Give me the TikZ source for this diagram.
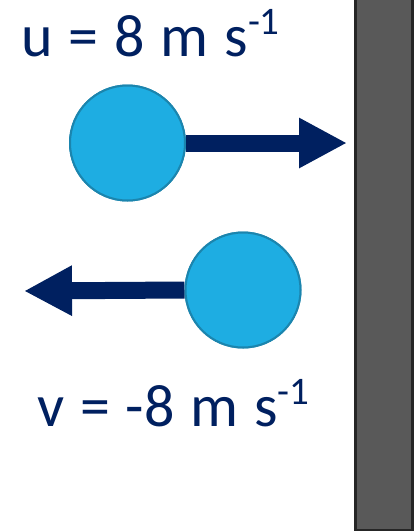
\documentclass[tikz,border=0pt]{standalone}
\usepackage{fontspec}
\setmainfont{Carlito}
\usetikzlibrary{arrows.meta}
\definecolor{navy}{HTML}{002060}
\definecolor{ballfill}{HTML}{1EADE2}
\definecolor{ballline}{HTML}{1B85AE}
\definecolor{wallfill}{HTML}{595959}
\definecolor{wallline}{HTML}{262626}
\newcommand{\labelfont}{\fontsize{60}{72}\selectfont}
\newcommand{\wsp}{\hspace{0.265em}}
\tikzset{
  ball/.style={circle, fill=ballfill, draw=ballline, line width=2pt, minimum size=115pt, inner sep=0pt},
  velarrow/.style={navy, line width=17pt, -{Triangle[length=48pt,width=47pt]}},
  label/.style={navy, inner sep=0pt, anchor=base west, font=\labelfont},
}
\newcommand{\supmone}{\raisebox{0.36em}{\fontsize{39}{44}\selectfont -1}}
\begin{document}
\begin{tikzpicture}[x=1pt,y=-1pt]
\useasboundingbox (0,0) rectangle (415,531);
\fill[white] (0,0) rectangle (415,531);
\node[draw=wallline, fill=wallfill, line width=3pt, minimum width=57pt, minimum height=545pt, inner sep=0pt] (wall) at (384,258) {};
\node[ball] (b1) at (127.5,143) {};
\node[ball] (b2) at (243,290) {};
\coordinate (t1) at (347,143);
\coordinate (t2) at (24,291);
\draw[velarrow] (b1.east) -- (t1);
\draw[velarrow] (b2.west) -- (t2);
\node[ball] at (b1) {};
\node[ball] at (b2) {};
\node[label] (u) at (21,56) {u\wsp=\wsp8\wsp m\wsp s\supmone};
\node[label] (v) at (37,426) {v\wsp=\wsp-8\wsp m\wsp s\supmone};
\end{tikzpicture}
\end{document}
